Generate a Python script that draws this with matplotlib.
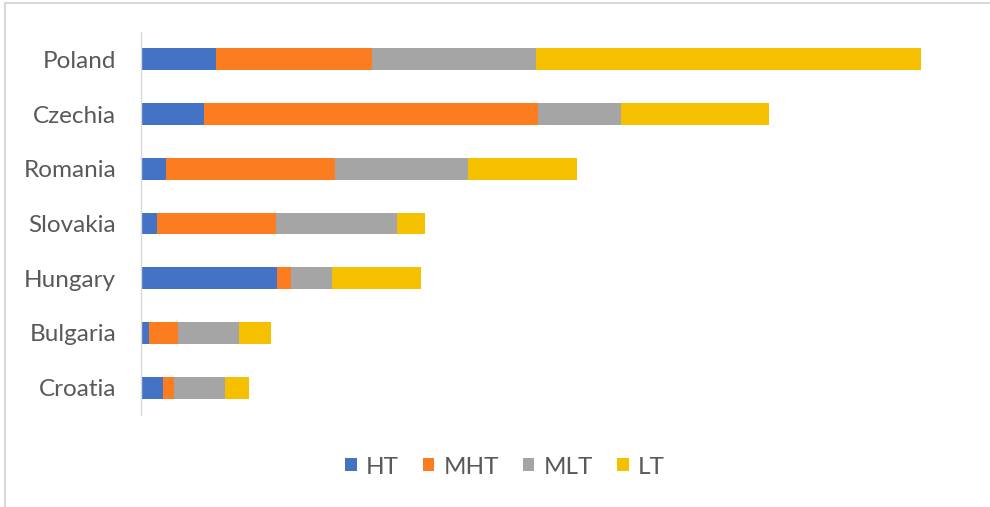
import matplotlib.pyplot as plt
from matplotlib.patches import Rectangle

countries = ["Poland", "Czechia", "Romania", "Slovakia", "Hungary", "Bulgaria", "Croatia"]
ht = [7.5, 6.3, 2.5, 1.6, 13.6, 0.8, 2.2]
mht = [15.6, 33.4, 16.9, 11.9, 1.4, 2.9, 1.1]
mlt = [16.4, 8.3, 13.3, 12.1, 4.1, 6.1, 5.1]
lt = [38.5, 14.8, 10.9, 2.8, 8.9, 3.2, 2.4]

series = [("HT", ht, "#4472C4"), ("MHT", mht, "#FB7D1F"),
          ("MLT", mlt, "#A5A5A5"), ("LT", lt, "#F5C000")]

plt.rcParams["font.family"] = ["Lato", "DejaVu Sans"]

W, H = 990, 507
fig = plt.figure(figsize=(W / 100, H / 100), dpi=100)
ax = fig.add_axes([141 / W, 1 - 415 / H, (960 - 141) / W, (415 - 32) / H])

y = list(range(len(countries)))
left = [0] * len(countries)
for name, vals, col in series:
    ax.barh(y, vals, left=left, height=0.4, color=col, label=name)
    left = [a + b for a, b in zip(left, vals)]

ax.set_ylim(len(countries) - 0.5, -0.5)
ax.set_xlim(0, (960 - 141) / 10)
ax.set_yticks(y)
ax.set_yticklabels(countries, fontsize=17.5, color="#595959")
ax.tick_params(axis="y", length=0, pad=18)
ax.set_xticks([])
for s in ["top", "right", "bottom"]:
    ax.spines[s].set_visible(False)
ax.spines["left"].set_color("#D9D9D9")
ax.spines["left"].set_linewidth(1)

leg = fig.legend(loc="center", bbox_to_anchor=(505 / W, 1 - 467 / H), ncol=4,
                 frameon=False, fontsize=17.5, handlelength=0.46, handleheight=0.46,
                 handletextpad=0.38, columnspacing=1.0)
for t in leg.get_texts():
    t.set_color("#595959")

# light frame around the chart area
fig.patches.append(Rectangle((5 / W, -0.1), 1.1, 1.1 - 3 / H, transform=fig.transFigure,
                             fill=False, edgecolor="#D9D9D9", linewidth=1.5))

fig.savefig("out.png", dpi=100, facecolor="white")
